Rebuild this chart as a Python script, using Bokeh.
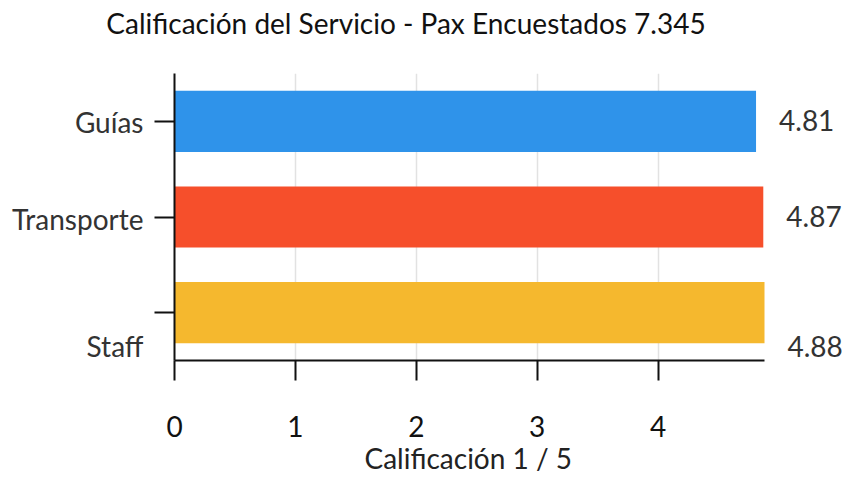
from bokeh.plotting import figure
from bokeh.models import ColumnDataSource, Range1d, Label, FixedTicker, LinearAxis, Title
from bokeh.embed import file_html
from bokeh.resources import INLINE

# ---- data ----
title_text = "Calificación del Servicio - Pax Encuestados 7.345"
categories = ["Guías", "Transporte", "Staff"]
scores = [4.81, 4.87, 4.88]
score_labels = ["4.81", "4.87", "4.88"]
bar_colors = ["#2F93EA", "#F64F2B", "#F5B82E"]
x_ticks = [0, 1, 2, 3, 4]
x_axis_title = "Calificación 1 / 5"

# ---- style ----
FONT = "Lato"
FS = "28px"
PX_PER_BAND = 287 / 3.0
cat_nudge_px = [1, 2, 33]        # category labels sit a little below their tick
val_nudge_px = [1, 1, -34]       # value labels relative to bar centre
TITLE_CENTER_FRAC = 231.5 / 590  # title centre, as a fraction of the bars' axis span

n = len(categories)
ypos = [n - i - 0.5 for i in range(n)]
cat_label_pos = [ypos[i] - cat_nudge_px[i] / PX_PER_BAND for i in range(n)]

src = ColumnDataSource(dict(y=ypos, right=scores, color=bar_colors, cat=categories))

x_max = max(scores)
p = figure(width=845, height=477, output_backend="svg", toolbar_location=None,
           x_range=Range1d(0, x_max * (671.0 / 590.0)), y_range=Range1d(0, n),
           min_border_left=174, min_border_right=0, min_border_top=73,
           min_border_bottom=117)
p.outline_line_color = None
p.background_fill_color = "white"
p.border_fill_color = "white"

p.hbar(y="y", right="right", left=0, height=0.64, fill_color="color",
       line_color=None, source=src)

xa = p.xaxis[0]
xa.bounds = (0, x_max)
xa.ticker = FixedTicker(ticks=x_ticks)
xa.axis_line_width = 2
xa.axis_line_color = "#111111"
xa.major_tick_line_width = 2
xa.major_tick_line_color = "#111111"
xa.major_tick_out = 20
xa.major_tick_in = 0
xa.minor_tick_line_color = None
xa.major_label_text_font = FONT
xa.major_label_text_font_size = FS
xa.major_label_text_color = "#111111"
xa.major_label_standoff = 35

ya = p.yaxis[0]
ya.ticker = FixedTicker(ticks=ypos)
ya.axis_line_width = 2
ya.axis_line_color = "#111111"
ya.major_tick_line_width = 2
ya.major_tick_line_color = "#111111"
ya.major_tick_out = 20
ya.major_tick_in = 0
ya.minor_tick_line_color = None
ya.major_label_standoff = 0
ya.major_label_overrides = {y: "" for y in ypos}

# outer left axis carrying the category names
ya2 = LinearAxis(ticker=FixedTicker(ticks=cat_label_pos),
                 major_label_overrides={cat_label_pos[i]: categories[i] for i in range(n)},
                 axis_line_color=None, major_tick_line_color=None,
                 minor_tick_line_color=None, major_tick_out=0, major_tick_in=0,
                 major_label_standoff=11, major_label_text_font=FONT,
                 major_label_text_font_size=FS, major_label_text_color="#333333")
p.add_layout(ya2, "left")

# chart title, carried by a bare axis above the plot
title_x = x_max * TITLE_CENTER_FRAC
ta = LinearAxis(ticker=FixedTicker(ticks=[title_x]),
                major_label_overrides={title_x: title_text},
                axis_line_color=None, major_tick_line_color=None,
                minor_tick_line_color=None, major_tick_out=0, major_tick_in=0,
                major_label_standoff=34, major_label_text_font=FONT,
                major_label_text_font_size=FS, major_label_text_color="#111111")
p.add_layout(ta, "above")

p.xgrid.ticker = FixedTicker(ticks=x_ticks)
p.xgrid.grid_line_color = "#e2e2e2"
p.xgrid.grid_line_width = 1.5
p.ygrid.grid_line_color = None

for i in range(n):
    p.add_layout(Label(x=scores[i], y=ypos[i], x_offset=23, y_offset=val_nudge_px[i],
                       text=score_labels[i], text_align="left",
                       text_baseline="middle", text_font=FONT,
                       text_font_size=FS, text_color="#333333"))

# x-axis title (placed as a title below the axis so it can be centred on the bars' span)
xt = Title(text=x_axis_title, align="left", offset=190, standoff=2,
           vertical_align="top",
           text_font=FONT, text_font_size=FS, text_font_style="normal",
           text_color="#222222")
p.add_layout(xt, "below")

open("out.html", "w").write(file_html(p, INLINE))
